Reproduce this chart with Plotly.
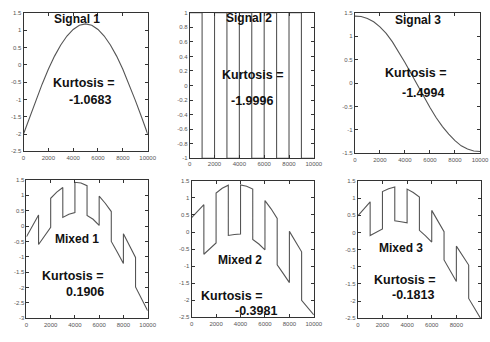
import plotly.graph_objects as go

W, H = 490, 342

# ---------------- data ----------------
x_smooth = [0, 500, 1000, 1500, 2000, 2500, 3000, 3500, 4000, 4500, 5000,
            5500, 6000, 6500, 7000, 7500, 8000, 8500, 9000, 9500, 10000]
signal1 = [-2.00, -1.50, -1.02, -0.56, -0.13, 0.25, 0.57, 0.83, 1.02, 1.14, 1.18,
           1.14, 1.02, 0.83, 0.57, 0.25, -0.13, -0.56, -1.02, -1.50, -2.00]
signal3 = [1.43, 1.42, 1.38, 1.31, 1.20, 1.06, 0.88, 0.67, 0.44, 0.20, -0.05,
           -0.29, -0.52, -0.74, -0.93, -1.09, -1.23, -1.34, -1.41, -1.45, -1.46]

signal2_x = [0, 1000, 1000, 2000, 2000, 3000, 3000, 4000, 4000, 5000, 5000,
             6000, 6000, 7000, 7000, 8000, 8000, 9000, 9000, 10000]
signal2 = [1, 1, -1, -1, 1, 1, -1, -1, 1, 1, -1, -1, 1, 1, -1, -1, 1, 1, -1, -1]

x_mixed = [0, 500, 1000, 1000, 1500, 2000, 2000, 2500, 3000, 3000, 3500, 4000,
           4000, 4500, 5000, 5000, 5500, 6000, 6000, 6500, 7000, 7000, 7500, 8000,
           8000, 8500, 9000, 9000, 9500, 10000]
mixed1 = [-0.35, 0.02, 0.36, -0.60, -0.30, -0.04, 0.90, 1.10, 1.25, 0.28, 0.38, 0.44,
          1.42, 1.40, 1.31, 0.34, 0.22, 0.02, 0.97, 0.74, 0.47, -0.50, -0.85, -1.22,
          -0.25, -0.62, -1.02, -1.98, -2.38, -2.75]
mixed2 = [0.42, 0.62, 0.80, -0.65, -0.48, -0.32, 1.14, 1.28, 1.37, -0.10, -0.07, -0.06,
          1.38, 1.34, 1.26, -0.22, -0.35, -0.52, 0.92, 0.68, 0.40, -0.96, -1.22, -1.48,
          0.02, -0.27, -0.58, -2.00, -2.22, -2.43]
mixed3 = [0.48, 0.70, 0.89, -0.09, 0.01, 0.10, 1.19, 1.27, 1.32, 0.34, 0.31, 0.28,
          1.26, 1.16, 1.03, 0.06, -0.10, -0.28, 0.64, 0.35, 0.02, -0.80, -1.10, -1.43,
          -0.40, -0.66, -0.95, -1.92, -2.22, -2.52]

titles = ["Signal 1", "Signal 2", "Signal 3", "Mixed 1", "Mixed 2", "Mixed 3"]
kurtosis = ["-1.0683", "-1.9996", "-1.4994", "0.1906", "-0.3981", "-0.1813"]

x_tickvals = [0, 2000, 4000, 6000, 8000, 10000]
x_ticktext = ["0", "2000", "4000", "6000", "8000", "10000"]

y_ranges = [[-2.5, 1.5], [-1, 1], [-1.5, 1.5], [-3, 1.5], [-2.5, 1.5], [-2.5, 1.5]]
y_tickvals = [
    [1.5, 1, 0.5, 0, -0.5, -1, -1.5, -2, -2.5],
    [1, 0.8, 0.6, 0.4, 0.2, 0, -0.2, -0.4, -0.6, -0.8, -1],
    [1.5, 1, 0.5, 0, -0.5, -1, -1.5],
    [1.5, 1, 0.5, 0, -0.5, -1, -1.5, -2, -2.5, -3],
    [1.5, 1, 0.5, 0, -0.5, -1, -1.5, -2, -2.5],
    [1.5, 1, 0.5, 0, -0.5, -1, -1.5, -2, -2.5],
]
y_ticktext = [
    ["1.5", "1", "0.5", "0", "-0.5", "-1", "-1.5", "-2", "-2.5"],
    ["1", "0.8", "0.6", "0.4", "0.2", "0", "-0.2", "-0.4", "-0.6", "-0.8", "-1"],
    ["1.5", "1", "0.5", "0", "-0.5", "-1", "-1.5"],
    ["1.5", "1", "0.5", "0", "-0.5", "-1", "-1.5", "-2", "-2.5", "-3"],
    ["1.5", "1", "0.5", "0", "-0.5", "-1", "-1.5", "-2", "-2.5"],
    ["1.5", "1", "0.5", "0", "-0.5", "-1", "-1.5", "-2", "-2.5"],
]

series_x = [x_smooth, signal2_x, x_smooth, x_mixed, x_mixed, x_mixed]
series_y = [signal1, signal2, signal3, mixed1, mixed2, mixed3]

# ---------------- layout (pixels) ----------------
boxes = [(22, 149, 10, 151), (192, 319, 10, 158), (361, 489, 10, 153),
         (25, 149, 180, 321), (194, 319, 181, 320), (364, 490, 181, 321)]
title_pos = [(77, 16), (253, 15.5), (426, 17.5), (77, 240.5), (243.5, 262), (408.5, 249)]
kurt_pos = [(83, 81), (256, 73), (423, 71), (72, 278), (234.5, 298), (412, 281.5)]
val_pos = [(90, 99), (256, 100), (431, 91.5), (85, 294), (259.5, 313.5), (420, 297.5)]

fig = go.Figure()
annotations = []
bold = dict(family="Liberation Sans, Arial, sans-serif", color="#111")

for i in range(6):
    ax = "" if i == 0 else str(i + 1)
    fig.add_trace(go.Scatter(
        x=series_x[i], y=series_y[i], mode="lines",
        line=dict(color="#555", width=1.1),
        xaxis="x" + ax, yaxis="y" + ax, showlegend=False, hoverinfo="skip"))
    x0, x1, y0, y1 = boxes[i]
    common = dict(showline=True, linecolor="#333", linewidth=1, mirror="ticks",
                  ticks="inside", ticklen=3, tickcolor="#333", showgrid=False,
                  zeroline=False, tickfont=dict(size=6, color="#555",
                                                family="Liberation Sans, Arial"))
    fig.layout["xaxis" + ax] = dict(
        domain=[x0 / W, x1 / W], range=[0, 10000], anchor="y" + ax,
        tickvals=x_tickvals, ticktext=x_ticktext, **common)
    fig.layout["yaxis" + ax] = dict(
        domain=[1 - y1 / H, 1 - y0 / H], range=y_ranges[i], anchor="x" + ax,
        tickvals=y_tickvals[i], ticktext=y_ticktext[i], **common)
    for (px, py), txt, sz in [(title_pos[i], titles[i], 12),
                              (kurt_pos[i], "Kurtosis =", 12.5),
                              (val_pos[i], kurtosis[i], 12.5)]:
        annotations.append(dict(
            x=px / W, y=1 - py / H, xref="paper", yref="paper", text="<b>" + txt + "</b>",
            showarrow=False, xanchor="center", yanchor="middle", borderpad=0,
            font=dict(size=sz, **bold)))

fig.update_layout(
    width=W, height=H, margin=dict(l=0, r=0, t=0, b=0),
    paper_bgcolor="white", plot_bgcolor="white",
    annotations=annotations,
)

fig.write_html("out.html")
